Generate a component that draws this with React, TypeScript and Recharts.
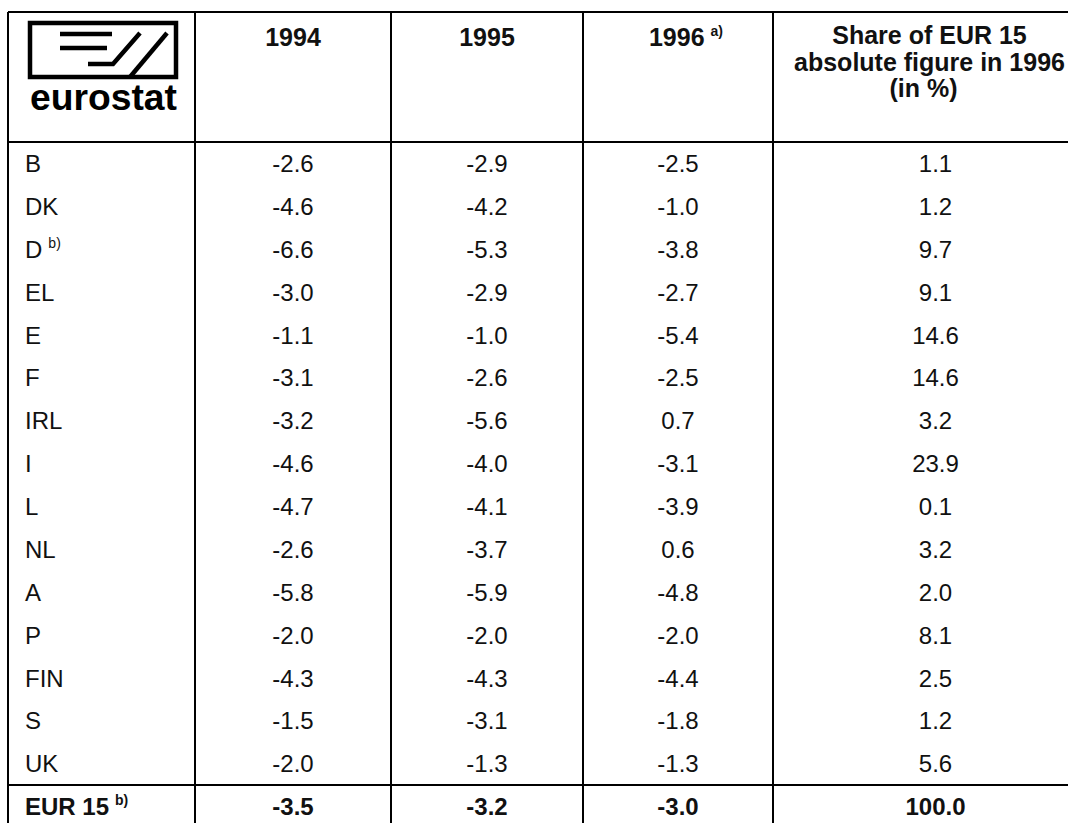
import React from "react";
import { ScatterChart, Scatter, XAxis, YAxis, ReferenceLine } from "recharts";

if (typeof document !== "undefined") {
  document.body.style.margin = "0";
}

const countries = ["B", "DK", "D", "EL", "E", "F", "IRL", "I", "L", "NL", "A", "P", "FIN", "S", "UK", "EUR 15"];
const countryNotes = ["", "", "b)", "", "", "", "", "", "", "", "", "", "", "", "", "b)"];
const deficit1994 = [-2.6, -4.6, -6.6, -3.0, -1.1, -3.1, -3.2, -4.6, -4.7, -2.6, -5.8, -2.0, -4.3, -1.5, -2.0, -3.5];
const deficit1995 = [-2.9, -4.2, -5.3, -2.9, -1.0, -2.6, -5.6, -4.0, -4.1, -3.7, -5.9, -2.0, -4.3, -3.1, -1.3, -3.2];
const deficit1996 = [-2.5, -1.0, -3.8, -2.7, -5.4, -2.5, 0.7, -3.1, -3.9, 0.6, -4.8, -2.0, -4.4, -1.8, -1.3, -3.0];
const share1996 = [1.1, 1.2, 9.7, 9.1, 14.6, 14.6, 3.2, 23.9, 0.1, 3.2, 2.0, 8.1, 2.5, 1.2, 5.6, 100.0];
const yearHeaders = ["1994", "1995", "1996"];
const yearNotes = ["", "", "a)"];
const shareHeader = ["Share of EUR 15", "absolute figure in 1996", "(in %)"];

// layout (pixels across, row units down)
const COL_EDGES = [8, 195, 391, 583, 773, 1098];
const ROW_H = 42.87;
const HEAD_TOP = -3.03;
const Y_DOMAIN: [number, number] = [-142 / ROW_H, (823 - 142) / ROW_H];
const FONT = "'Liberation Sans', Arial, sans-serif";

const colCenter = (c: number) => (COL_EDGES[c] + COL_EDGES[c + 1]) / 2;

type Cell = {
  x: number;
  y: number;
  text: string;
  note?: string;
  bold?: boolean;
  anchor: "start" | "middle";
  size: number;
};

const valueCols = [deficit1994, deficit1995, deficit1996, share1996];

const cells: Cell[] = [];
countries.forEach((name, r) => {
  const bold = r === countries.length - 1;
  cells.push({ x: COL_EDGES[0] + 17, y: r + 0.5, text: name, note: countryNotes[r], bold, anchor: "start", size: 24 });
  valueCols.forEach((col, c) => {
    cells.push({ x: colCenter(c + 1), y: r + 0.5, text: col[r].toFixed(1), bold, anchor: "middle", size: 24 });
  });
});
yearHeaders.forEach((h, c) => {
  cells.push({ x: colCenter(c + 1) + (yearNotes[c] ? 8 : 0), y: -2.45, text: h, note: yearNotes[c], bold: true, anchor: "middle", size: 25 });
});
// share header sits a bit left of the (clipped) column centre so its long line still fits
const shareLineY = [-2.49, -1.865, -1.25];
shareHeader.forEach((h, i) => {
  cells.push({ x: colCenter(4) - 6 + (i === 2 ? -6 : 0), y: shareLineY[i], text: h, bold: true, anchor: "middle", size: 25 });
});

const logoPoint = [{ x: 103, y: (50 - 142) / ROW_H }];

const renderCell = (props: any) => {
  const { cx, cy, payload } = props;
  const p = payload as Cell;
  return (
    <text
      x={cx}
      y={cy}
      dy="0.36em"
      textAnchor={p.anchor}
      fontFamily={FONT}
      fontSize={p.size}
      fontWeight={p.bold ? 700 : 400}
      fill="#111"
    >
      {p.text}
      {p.note ? (
        <tspan dx={6} dy={-10} fontSize={14}>
          {p.note}
        </tspan>
      ) : null}
    </text>
  );
};

const renderLogo = (props: any) => {
  const { cx, cy } = props;
  const l = cx - 73;
  const t = cy - 27;
  return (
    <g stroke="#000" fill="none" strokeWidth={4.5} strokeLinejoin="miter">
      <rect x={l} y={t} width={146} height={54} />
      <line x1={l + 30} y1={t + 11} x2={l + 82} y2={t + 11} />
      <line x1={l + 30} y1={t + 25} x2={l + 77} y2={t + 25} />
      <polyline points={`${l + 58},${t + 41} ${l + 83},${t + 41} ${l + 110},${t + 10}`} />
      <line x1={l + 100} y1={t + 54} x2={l + 137} y2={t + 10} />
      <text
        x={l}
        y={t + 87}
        stroke="none"
        fill="#000"
        fontFamily={FONT}
        fontWeight={700}
        fontSize={37}
        textLength={147}
        lengthAdjust="spacingAndGlyphs"
      >
        eurostat
      </text>
    </g>
  );
};

const App = () => {
  const lastRow = countries.length - 1;
  return (
    <ScatterChart width={1068} height={823} margin={{ top: 0, right: 0, bottom: 0, left: 0 }}>
      <XAxis type="number" dataKey="x" domain={[0, 1068]} hide />
      <YAxis type="number" dataKey="y" domain={Y_DOMAIN} reversed hide />
      <ReferenceLine
        segment={[{ x: COL_EDGES[0], y: HEAD_TOP }, { x: 1068, y: HEAD_TOP }]}
        stroke="#000"
        strokeWidth={2}
        ifOverflow="visible"
      />
      <ReferenceLine
        segment={[{ x: COL_EDGES[0], y: 0 }, { x: 1068, y: 0 }]}
        stroke="#000"
        strokeWidth={2}
        ifOverflow="visible"
      />
      <ReferenceLine
        segment={[{ x: COL_EDGES[0], y: lastRow }, { x: 1068, y: lastRow }]}
        stroke="#000"
        strokeWidth={2}
        ifOverflow="visible"
      />
      {COL_EDGES.slice(0, 5).map((e) => (
        <ReferenceLine
          key={e}
          segment={[{ x: e, y: HEAD_TOP }, { x: e, y: Y_DOMAIN[1] }]}
          stroke="#000"
          strokeWidth={2}
          ifOverflow="visible"
        />
      ))}
      <Scatter data={logoPoint} shape={renderLogo} isAnimationActive={false} />
      <Scatter data={cells} shape={renderCell} isAnimationActive={false} />
    </ScatterChart>
  );
};

export default App;
